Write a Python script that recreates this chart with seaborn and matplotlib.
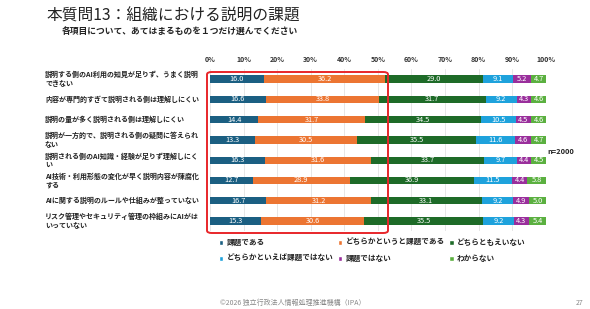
import matplotlib
matplotlib.use("Agg")
import matplotlib.pyplot as plt
import seaborn as sns
import numpy as np
import pandas as pd
from matplotlib.patches import FancyBboxPatch, Patch

items = [
    "説明する側のAI利用の知見が足りず、うまく説明\nできない",
    "内容が専門的すぎて説明される側は理解しにくい",
    "説明の量が多く説明される側は理解しにくい",
    "説明が一方的で、説明される側の疑問に答えられ\nない",
    "説明される側のAI知識・経験が足りず理解しにく\nい",
    "AI技術・利用形態の変化が早く説明内容が陳腐化\nする",
    "AIに関する説明のルールや仕組みが整っていない",
    "リスク管理やセキュリティ管理の枠組みにAIがは\nいっていない",
]
answers = ["課題である", "どちらかというと課題である", "どちらともえいない",
           "どちらかといえば課題ではない", "課題ではない", "わからない"]
kadai = [16.0, 16.6, 14.4, 13.3, 16.3, 12.7, 16.7, 15.3]
yaya_kadai = [36.2, 33.8, 31.7, 30.5, 31.6, 28.9, 31.2, 30.6]
dochira_demo = [29.0, 31.7, 34.5, 35.5, 33.7, 36.9, 33.1, 35.5]
yaya_nai = [9.1, 9.2, 10.5, 11.6, 9.7, 11.5, 9.2, 9.2]
kadai_nai = [5.2, 4.3, 4.5, 4.6, 4.4, 4.4, 4.9, 4.3]
wakaranai = [4.7, 4.6, 4.6, 4.7, 4.5, 5.8, 5.0, 5.4]
colors = ["#1b5f82", "#ec7532", "#1e6b28", "#1ea2dc", "#9a2f9c", "#5bb040"]

sns.set_style("white")
plt.rcParams["font.family"] = ["Noto Sans CJK JP", "DejaVu Sans"]

series = [kadai, yaya_kadai, dochira_demo, yaya_nai, kadai_nai, wakaranai]
df = pd.DataFrame({a: s for a, s in zip(answers, series)})
df["item"] = [str(i) for i in range(len(items))]
cum = df[answers].cumsum(axis=1)

fig = plt.figure(figsize=(5.9, 3.09), dpi=100)
ax = fig.add_axes([0.356, 0.252, 0.569, 0.525])

# stacked bars: draw cumulative totals from the largest down
for a, c in reversed(list(zip(answers, colors))):
    sns.barplot(x=cum[a], y=df["item"], color=c, width=0.36, ax=ax,
                orient="h", saturation=1, linewidth=0)

for i in range(len(items)):
    left = 0
    for a in answers:
        v = df.loc[i, a]
        ax.text(left + v / 2, i, f"{v:.1f}", ha="center", va="center",
                color="white", fontsize=5.3)
        left += v

ax.set_xlim(0, 100)
ax.set_ylim(len(items) - 0.5, -0.5)
ax.set_xticks(np.arange(0, 101, 10))
ax.set_xticklabels([f"{t}%" for t in range(0, 101, 10)], fontsize=5,
                   fontweight="bold", color="#333333")
ax.xaxis.tick_top()
ax.tick_params(axis="x", length=0, pad=4)
ax.set_yticks([])
ax.set_xlabel("")
ax.set_ylabel("")
ax.grid(axis="x", color="#e3e3e3", linewidth=0.6)
ax.set_axisbelow(True)
for s in ax.spines.values():
    s.set_visible(False)

for i, lab in enumerate(items):
    y = ax.transData.transform((0, i))[1] / fig.dpi / 3.09
    fig.text(45 / 590, y, lab, ha="left", va="center", fontsize=5.05,
             fontweight="bold", color="#222222", linespacing=1.3)

fig.text(47 / 590, 1 - 16 / 309, "本質問13：組織における説明の課題", fontsize=11.3,
         color="#222222", va="center", ha="left")
fig.text(62 / 590, 1 - 31 / 309, "各項目について、あてはまるものを１つだけ選んでください",
         fontsize=6.3, fontweight="bold", color="#222222", va="center", ha="left")
fig.text(547 / 590, 1 - 151 / 309, "n=2000", fontsize=5.3, fontweight="bold",
         color="#222222", va="center", ha="left")
fig.text(293 / 590, 1 - 303 / 309, "©2026 独立行政法人情報処理推進機構（IPA）",
         fontsize=5, color="#888888", va="center", ha="center")
fig.text(580 / 590, 1 - 303 / 309, "27", fontsize=5, color="#888888",
         va="center", ha="center")

box = FancyBboxPatch((207 / 590, 1 - 233 / 309), 181 / 590, 161 / 309,
                     boxstyle="round,pad=0,rounding_size=0.008",
                     transform=fig.transFigure, fill=False,
                     edgecolor="#e8262a", linewidth=1.4)
fig.patches.append(box)

order = [0, 3, 1, 4, 2, 5]
handles = [Patch(facecolor=colors[k], label=answers[k]) for k in order]
fig.legend(handles=handles, ncol=3, loc="upper left",
           bbox_to_anchor=(212 / 590, 1 - 231 / 309), frameon=False,
           prop={"size": 5.5, "weight": "bold"}, handlelength=0.6,
           handleheight=0.6, handletextpad=0.4, columnspacing=0.6,
           labelspacing=0.95, labelcolor="#222222")

fig.savefig("out.png", dpi=100)
